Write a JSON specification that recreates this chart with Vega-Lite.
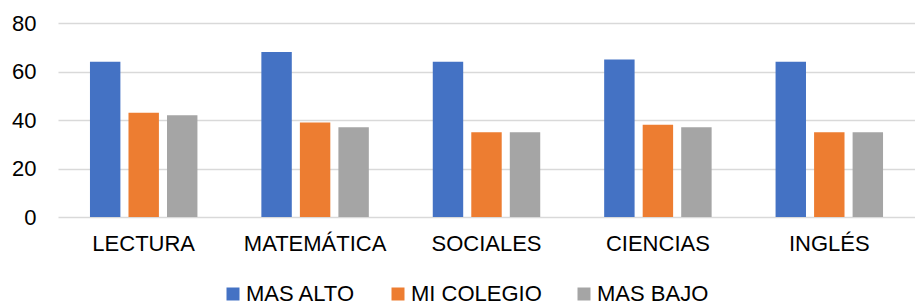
{
  "$schema": "https://vega.github.io/schema/vega-lite/v6.json",
  "autosize": "none",
  "width": 857,
  "height": 194,
  "padding": {"left": 58, "top": 23, "right": 0, "bottom": 89},
  "background": "white",
  "data": {
    "values": [
      {"materia": "LECTURA", "serie": "MAS ALTO", "valor": 64},
      {"materia": "LECTURA", "serie": "MI COLEGIO", "valor": 43},
      {"materia": "LECTURA", "serie": "MAS BAJO", "valor": 42},
      {"materia": "MATEMÁTICA", "serie": "MAS ALTO", "valor": 68},
      {"materia": "MATEMÁTICA", "serie": "MI COLEGIO", "valor": 39},
      {"materia": "MATEMÁTICA", "serie": "MAS BAJO", "valor": 37},
      {"materia": "SOCIALES", "serie": "MAS ALTO", "valor": 64},
      {"materia": "SOCIALES", "serie": "MI COLEGIO", "valor": 35},
      {"materia": "SOCIALES", "serie": "MAS BAJO", "valor": 35},
      {"materia": "CIENCIAS", "serie": "MAS ALTO", "valor": 65},
      {"materia": "CIENCIAS", "serie": "MI COLEGIO", "valor": 38},
      {"materia": "CIENCIAS", "serie": "MAS BAJO", "valor": 37},
      {"materia": "INGLÉS", "serie": "MAS ALTO", "valor": 64},
      {"materia": "INGLÉS", "serie": "MI COLEGIO", "valor": 35},
      {"materia": "INGLÉS", "serie": "MAS BAJO", "valor": 35}
    ]
  },
  "mark": {"type": "bar"},
  "encoding": {
    "x": {
      "field": "materia",
      "type": "nominal",
      "sort": ["LECTURA", "MATEMÁTICA", "SOCIALES", "CIENCIAS", "INGLÉS"],
      "scale": {"paddingInner": 0.373, "paddingOuter": 0.1865},
      "axis": {
        "title": null,
        "labelAngle": 0,
        "domain": false,
        "ticks": false,
        "labelPadding": 16,
        "labelFont": "Liberation Sans",
        "labelFontSize": 22,
        "labelColor": "#000000"
      }
    },
    "xOffset": {
      "field": "serie",
      "type": "nominal",
      "sort": ["MAS ALTO", "MI COLEGIO", "MAS BAJO"],
      "scale": {"paddingInner": 0.21, "paddingOuter": 0}
    },
    "y": {
      "field": "valor",
      "type": "quantitative",
      "scale": {"domain": [0, 80]},
      "axis": {
        "title": null,
        "values": [0, 20, 40, 60, 80],
        "domain": false,
        "ticks": false,
        "labelPadding": 22,
        "labelFont": "Liberation Sans",
        "labelFontSize": 22,
        "labelColor": "#000000",
        "gridColor": "#D9D9D9",
        "gridWidth": 1.5
      }
    },
    "color": {
      "field": "serie",
      "type": "nominal",
      "sort": ["MAS ALTO", "MI COLEGIO", "MAS BAJO"],
      "scale": {
        "domain": ["MAS ALTO", "MI COLEGIO", "MAS BAJO"],
        "range": ["#4472C4", "#ED7D31", "#A5A5A5"]
      },
      "legend": {
        "title": null,
        "orient": "none",
        "direction": "horizontal",
        "legendX": 164,
        "legendY": 260,
        "symbolType": "square",
        "symbolSize": 169,
        "symbolStrokeWidth": 0,
        "labelOffset": 2,
        "columnPadding": 31,
        "labelFont": "Liberation Sans",
        "labelFontSize": 22,
        "labelColor": "#000000"
      }
    }
  },
  "config": {"view": {"stroke": null}}
}
